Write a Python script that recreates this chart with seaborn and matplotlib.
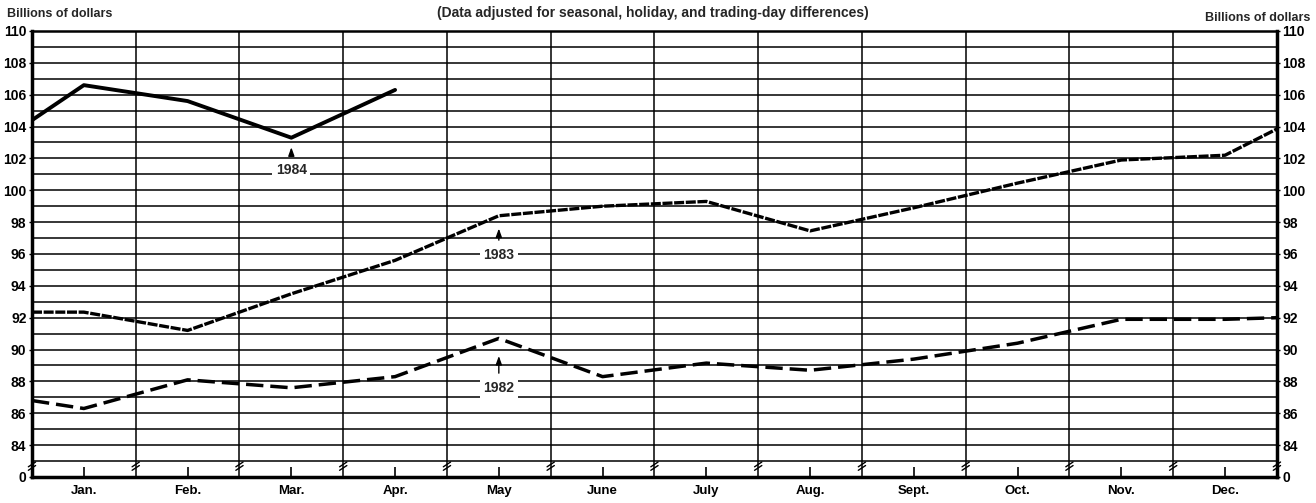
import numpy as np
import pandas as pd
import seaborn as sns
import matplotlib.pyplot as plt

sns.set_style("white")
plt.rcParams['font.family'] = ['Liberation Sans', 'DejaVu Sans']

# ---------------- data ----------------
months = ["Jan.", "Feb.", "Mar.", "Apr.", "May", "June", "July",
          "Aug.", "Sept.", "Oct.", "Nov.", "Dec."]
v1982 = [86.3, 88.1, 87.6, 88.3, 90.7, 88.3, 89.15, 88.7, 89.4, 90.4, 91.9, 91.9]
v1983 = [92.35, 91.2, 93.5, 95.6, 98.4, 99.0, 99.3, 97.45, 98.9, 100.45, 101.9, 102.2]
v1984 = [106.6, 105.6, 103.3, 106.3]
# values where each line meets the left / right edge of the year
start1982, end1982 = 86.8, 92.0
start1983, end1983 = 92.35, 103.85
start1984 = 104.4
ytick_values = [82] + list(range(84, 111, 2))
ytick_labels = ["0"] + [str(v) for v in range(84, 111, 2)]


def series(vals, start=None, end=None):
    xs = [i + 0.5 for i in range(len(vals))]
    ys = list(vals)
    if start is not None:
        xs = [0.0] + xs
        ys = [start] + ys
    if end is not None:
        xs = xs + [float(len(months))]
        ys = ys + [end]
    return pd.DataFrame({"x": xs, "v": ys})


df82 = series(v1982, start1982, end1982)
df83 = series(v1983, start1983, end1983)
df84 = series(v1984, start1984, None)

fig = plt.figure(figsize=(13.16, 5.03), dpi=100)
ax = fig.add_axes([0.0243, 0.0517, 0.9460, 0.8867])

sns.lineplot(data=df82, x="x", y="v", ax=ax, color="black", lw=2.5,
             linestyle=(0, (5, 2.0)), zorder=5)
sns.lineplot(data=df83, x="x", y="v", ax=ax, color="black", lw=2.4,
             linestyle=(0, (3, 0.5)), zorder=5)
sns.lineplot(data=df84, x="x", y="v", ax=ax, color="black", lw=2.8,
             linestyle="-", zorder=5)

ax.set_xlim(0, len(months))
ax.set_ylim(82, 110)
ax.set_xlabel("")
ax.set_ylabel("")

# x axis: month labels at centres, grid at month boundaries
ax.set_xticks([i + 0.5 for i in range(len(months))])
ax.set_xticklabels(months, fontsize=9.5, fontweight="bold")
ax.set_xticks(list(range(1, len(months))), minor=True)
ax.tick_params(axis="x", which="major", direction="in", length=7, width=1.2,
               pad=6, bottom=True, colors="black")
ax.tick_params(axis="x", which="minor", length=0)

# y axis
ax.set_yticks(ytick_values)
ax.set_yticklabels(ytick_labels, fontsize=10, fontweight="bold")
ax.set_yticks(list(range(83, 110, 2)), minor=True)
ax.tick_params(axis="y", which="major", left=True, right=True,
               labelleft=True, labelright=True, direction="out",
               length=2, width=1, pad=2, colors="black")
ax.tick_params(axis="y", which="minor", length=0)

ax.xaxis.grid(True, which="minor", color="black", lw=1.1)
ax.xaxis.grid(False, which="major")
ax.yaxis.grid(True, which="both", color="black", lw=1.1)
ax.set_axisbelow(True)

for side in ["left", "bottom", "right"]:
    ax.spines[side].set_linewidth(2.5)
    ax.spines[side].set_color("black")
ax.spines["top"].set_linewidth(1.8)
ax.spines["top"].set_color("black")

# axis-break marks at the bottom of each vertical line
for xb in range(len(months) + 1):
    for dy in (0.0, 0.22):
        ax.plot([xb - 0.035, xb + 0.035], [82.42 + dy, 82.72 + dy],
                color="black", lw=1.0, clip_on=False, zorder=6)

# labels with arrows
ann_kw = dict(ha="center", va="center", fontsize=10, fontweight="bold",
              zorder=7,
              bbox=dict(boxstyle="square,pad=0.25", fc="white", ec="none"),
              arrowprops=dict(arrowstyle="-|>,head_width=0.18,head_length=0.5",
                              color="black", lw=1.0, shrinkA=3, shrinkB=0))
ax.annotate("1984", xy=(2.5, 102.7), xytext=(2.5, 101.25), **ann_kw)
ax.annotate("1983", xy=(4.5, 97.6), xytext=(4.5, 95.95), **ann_kw)
ax.annotate("1982", xy=(4.5, 89.6), xytext=(4.5, 87.6), **ann_kw)

fig.text(0.005, 1 - 14 / 503, "Billions of dollars", ha="left", va="center",
         fontsize=9, fontweight="bold")
fig.text(0.496, 1 - 13 / 503,
         "(Data adjusted for seasonal, holiday, and trading-day differences)",
         ha="center", va="center", fontsize=10, fontweight="bold")
fig.text(0.996, 1 - 18 / 503, "Billions of dollars", ha="right", va="center",
         fontsize=9, fontweight="bold")

fig.savefig("out.png", dpi=100, facecolor="white")
